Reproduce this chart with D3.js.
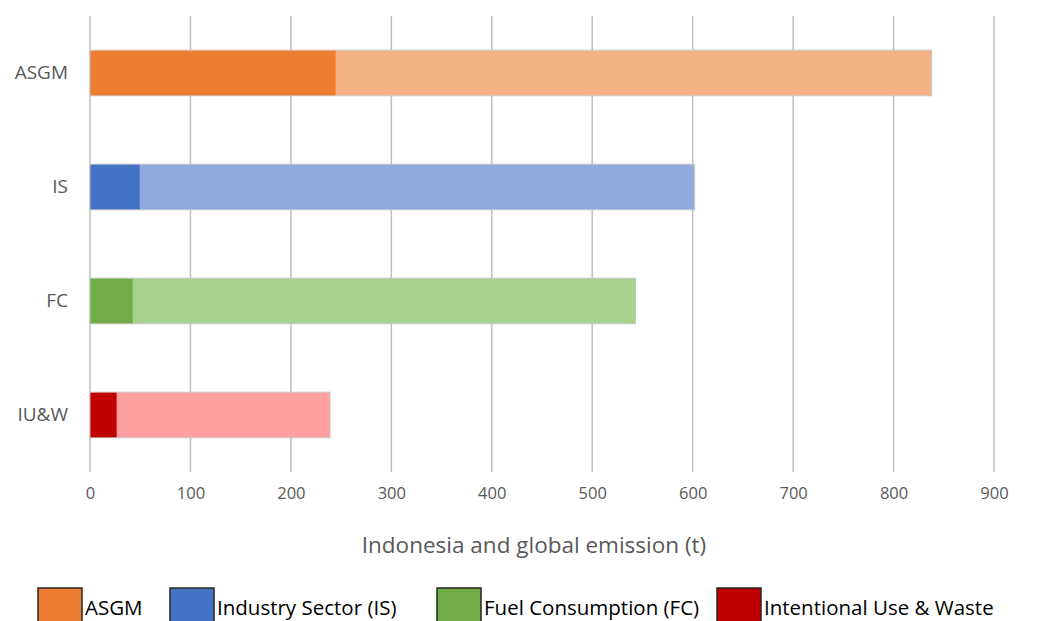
<!DOCTYPE html>
<html>
<head>
  <style>
    body { margin: 0; background: #fff; }
    text { font-family: "Open Sans", sans-serif; }
  </style>
</head>
<body>
  <svg id="chart"></svg>

  <script src="https://d3js.org/d3.v7.min.js"></script>
  <script>
    // chart values
    const categories = ['ASGM', 'IS', 'FC', 'IU&W'];
    const indonesia = [244, 49, 42, 26];
    const global = [838, 602, 543, 239];
    const xTicks = [0, 100, 200, 300, 400, 500, 600, 700, 800, 900];
    const legendLabels = ['ASGM', 'Industry Sector (IS)', 'Fuel Consumption (FC)', 'Intentional Use & Waste'];
    const darkColors = ['#ED7D31', '#4472C4', '#70AD47', '#C00000'];
    const lightColors = ['#F4B183', '#8FAADC', '#A9D18E', '#FF9F9F'];

    const width = 1049, height = 621;
    const margin = { top: 16, right: 55, bottom: 149, left: 90 };

    const svg = d3.select('#chart')
      .attr('width', width)
      .attr('height', height);

    const x = d3.scaleLinear()
      .domain([0, 900])
      .range([margin.left, margin.left + 904]);

    const y = d3.scaleBand()
      .domain(categories)
      .range([margin.top, height - margin.bottom])
      .paddingInner(0.6)
      .paddingOuter(0.3);

    // vertical gridlines
    svg.append('g')
      .selectAll('line')
      .data(xTicks)
      .join('line')
      .attr('x1', d => x(d)).attr('x2', d => x(d))
      .attr('y1', margin.top).attr('y2', height - margin.bottom)
      .attr('stroke', '#bfbfbf')
      .attr('stroke-width', 1.5);

    // global (light) segment first, then Indonesia on top
    const rows = categories.map((c, i) => ({ c, i, indo: indonesia[i], glob: global[i] }));

    svg.append('g')
      .selectAll('rect')
      .data(rows)
      .join('rect')
      .attr('x', d => x(0))
      .attr('y', d => y(d.c))
      .attr('width', d => x(d.glob) - x(0))
      .attr('height', y.bandwidth())
      .attr('fill', d => lightColors[d.i])
      .attr('stroke', '#c8c8c8')
      .attr('stroke-width', 1);

    svg.append('g')
      .selectAll('rect')
      .data(rows)
      .join('rect')
      .attr('x', d => x(0) + 0.5)
      .attr('y', d => y(d.c) + 0.5)
      .attr('width', d => x(d.indo) - x(0))
      .attr('height', y.bandwidth() - 1)
      .attr('fill', d => darkColors[d.i]);

    // x tick labels
    const xAxis = svg.append('g')
      .attr('transform', `translate(0, ${height - margin.bottom})`)
      .call(d3.axisBottom(x).tickValues(xTicks).tickSize(0).tickPadding(15));
    xAxis.select('.domain').remove();
    xAxis.selectAll('text')
      .attr('font-family', '"Open Sans", sans-serif')
      .attr('font-size', 16.5)
      .attr('fill', '#595959');

    // category labels
    const yAxis = svg.append('g')
      .attr('transform', `translate(${margin.left}, 0)`)
      .call(d3.axisLeft(y).tickSize(0).tickPadding(22));
    yAxis.select('.domain').remove();
    yAxis.selectAll('text')
      .attr('font-family', '"Open Sans", sans-serif')
      .attr('font-size', 19)
      .attr('fill', '#595959');

    // axis title
    svg.append('text')
      .attr('x', 534)
      .attr('y', 553)
      .attr('text-anchor', 'middle')
      .attr('font-size', 22.5)
      .attr('fill', '#595959')
      .text('Indonesia and global emission (t)');

    // legend
    const legendX = [38, 170, 437, 717];
    const legend = svg.append('g');
    legendLabels.forEach((label, i) => {
      legend.append('rect')
        .attr('x', legendX[i])
        .attr('y', 588)
        .attr('width', 44)
        .attr('height', 40)
        .attr('fill', darkColors[i])
        .attr('stroke', '#262626')
        .attr('stroke-width', 1.5);
      legend.append('text')
        .attr('x', legendX[i] + 47)
        .attr('y', 615)
        .attr('font-size', 20.5)
        .attr('fill', '#000')
        .text(label);
    });
  </script>
</body>
</html>
